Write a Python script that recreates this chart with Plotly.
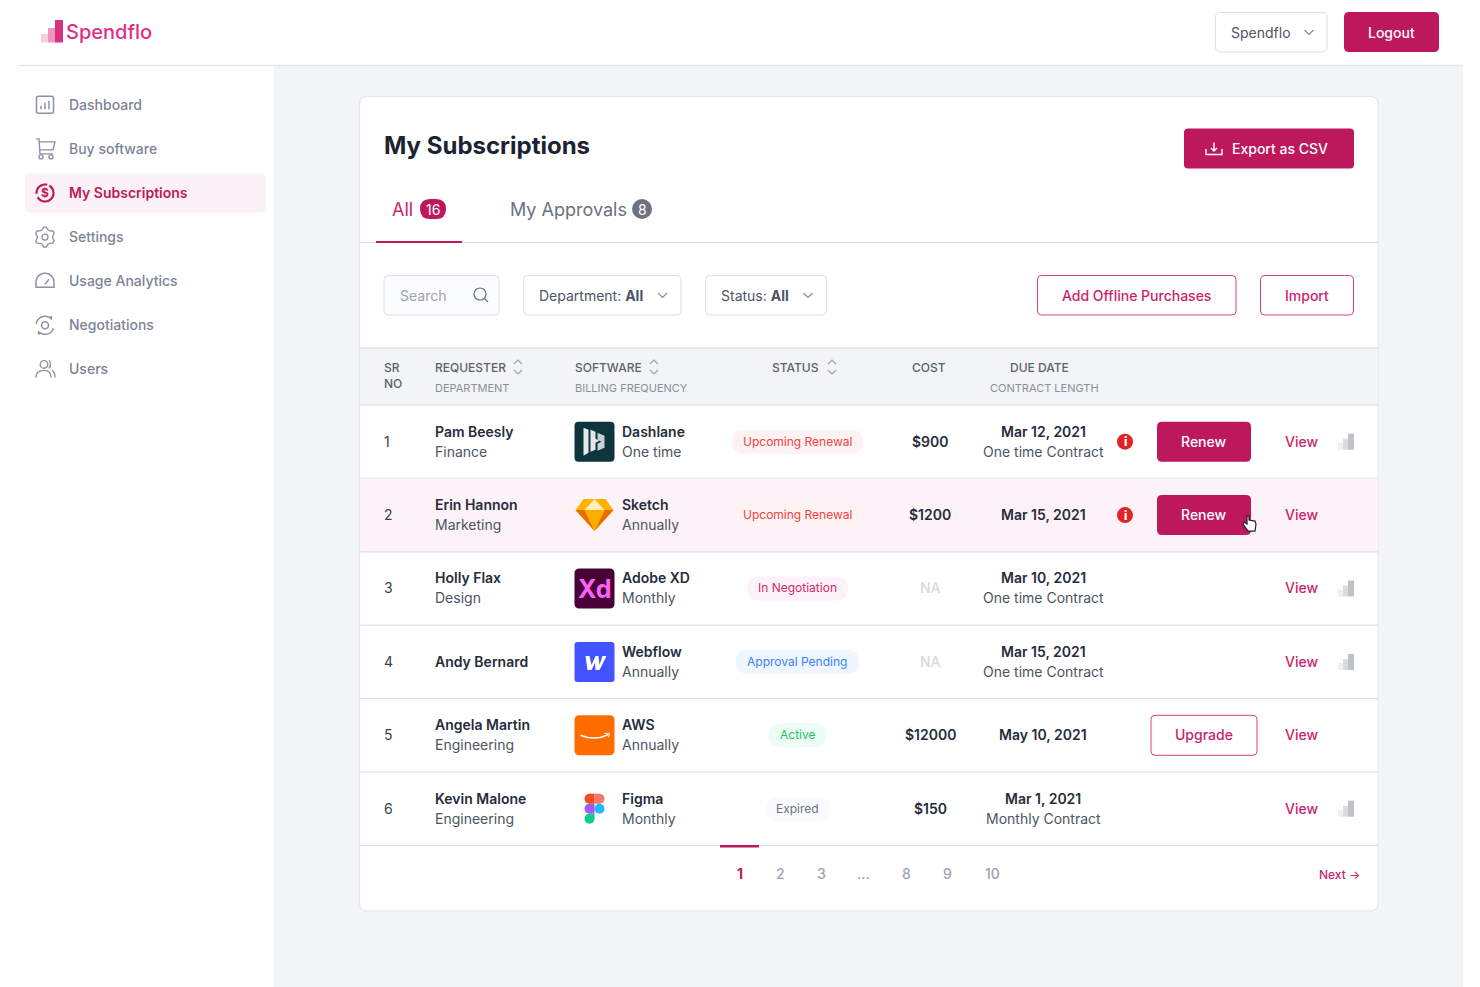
"""Spendflo subscriptions screen drawn on a pixel-sized Plotly canvas."""

import numpy as np
import plotly.graph_objects as go

WIDTH, HEIGHT = 1480, 987
FONT = "Inter"
BRAND = "#BE185D"
BRAND_TEXT = "#C9266A"
LINE = "#E1E3EB"
GREY_ICON = "#8A92A3"
DARK_TEXT = "#252C3B"
BODY_TEXT = "#4B5563"

NAV_ITEMS = ["Dashboard", "Buy software", "My Subscriptions", "Settings",
             "Usage Analytics", "Negotiations", "Users"]
ACTIVE_NAV = "My Subscriptions"

SR_NO = ["1", "2", "3", "4", "5", "6"]
REQUESTERS = ["Pam Beesly", "Erin Hannon", "Holly Flax", "Andy Bernard", "Angela Martin", "Kevin Malone"]
DEPARTMENTS = ["Finance", "Marketing", "Design", "", "Engineering", "Engineering"]
SOFTWARE = ["Dashlane", "Sketch", "Adobe XD", "Webflow", "AWS", "Figma"]
BILLING = ["One time", "Annually", "Monthly", "Annually", "Annually", "Monthly"]
STATUSES = ["Upcoming Renewal", "Upcoming Renewal", "In Negotiation", "Approval Pending", "Active", "Expired"]
COSTS = ["$900", "$1200", "NA", "NA", "$12000", "$150"]
DUE_DATES = ["Mar 12, 2021", "Mar 15, 2021", "Mar 10, 2021", "Mar 15, 2021", "May 10, 2021", "Mar 1, 2021"]
CONTRACTS = ["One time Contract", "", "One time Contract", "One time Contract", "", "Monthly Contract"]
ACTIONS = ["Renew", "Renew", "", "", "Upgrade", ""]
SHOW_INFO = [True, True, False, False, False, False]
SHOW_BARS = [True, False, True, True, False, True]
HIGHLIGHT_ROW = 1

# half width, pill fill, text colour
STATUS_STYLES = {
    "Upcoming Renewal": (65.5, "#FEF2F2", "#EF4444"),
    "In Negotiation": (50.5, "#FDF2F8", "#D02C6E"),
    "Approval Pending": (61.5, "#EFF6FF", "#3B82F6"),
    "Active": (28.5, "#ECFDF5", "#22C55E"),
    "Expired": (32, "#F9FAFB", "#6B7280"),
}

PAGE_LABELS = ["1", "2", "3", "...", "8", "9", "10"]
PAGE_CENTERS = [739.5, 780, 821, 863, 906, 947, 992]

shapes = []
annotations = []


def text(x, y, label, size=14, color="#374151", weight=400, anchor="left", family=FONT):
    # annotations land about half a pixel low and right of the nominal spot
    annotations.append(dict(
        x=x - 0.5, y=y - 0.6, text=label, xref="x", yref="y", showarrow=False,
        xanchor=anchor, yanchor="middle", borderpad=0, borderwidth=0,
        font=dict(family=family, size=size, color=color, weight=weight),
    ))


def rect(x0, y0, x1, y1, fill):
    shapes.append(dict(type="rect", x0=x0, y0=y0, x1=x1, y1=y1, fillcolor=fill, line_width=0))


def rrect(x0, y0, x1, y1, r, fill="rgba(0,0,0,0)", stroke=None, width=1):
    d = (f"M{x0 + r},{y0} L{x1 - r},{y0} Q{x1},{y0} {x1},{y0 + r} L{x1},{y1 - r} Q{x1},{y1} {x1 - r},{y1} "
         f"L{x0 + r},{y1} Q{x0},{y1} {x0},{y1 - r} L{x0},{y0 + r} Q{x0},{y0} {x0 + r},{y0} Z")
    path(d, fill=fill, stroke=stroke, width=width)


def path(d, fill="rgba(0,0,0,0)", stroke=None, width=1):
    line = dict(color=stroke, width=width) if stroke else dict(width=0)
    shapes.append(dict(type="path", path=d, fillcolor=fill, line=line))


def circle(cx, cy, r, fill="rgba(0,0,0,0)", stroke=None, width=1):
    line = dict(color=stroke, width=width) if stroke else dict(width=0)
    shapes.append(dict(type="circle", x0=cx - r, y0=cy - r, x1=cx + r, y1=cy + r, fillcolor=fill, line=line))


def hline(y, x0, x1, color=LINE, width=1):
    shapes.append(dict(type="line", x0=x0, x1=x1, y0=y, y1=y, line=dict(color=color, width=width)))


def arc(cx, cy, r, start, stop, stroke=GREY_ICON, width=1.5):
    angles = np.radians(np.linspace(start, stop, 24))
    pts = [f"{cx + r * np.cos(a):.2f},{cy + r * np.sin(a):.2f}" for a in angles]
    path("M" + " L".join(pts), stroke=stroke, width=width)


def chevron(cx, cy, color="#868C99", size=4.5):
    path(f"M{cx - size},{cy - 2} L{cx},{cy + 2.5} L{cx + size},{cy - 2}", stroke=color, width=1.2)


def sort_arrows(cx, cy):
    path(f"M{cx - 4},{cy - 3} L{cx},{cy - 7} L{cx + 4},{cy - 3}", stroke="#9CA3AF", width=1.2)
    path(f"M{cx - 4},{cy + 3} L{cx},{cy + 7} L{cx + 4},{cy + 3}", stroke="#9CA3AF", width=1.2)


def usage_bars(x, cy):
    rect(x, cy + 1, x + 5, cy + 8, "#EEEFF1")
    rect(x + 5, cy - 3, x + 10, cy + 8, "#DADCDF")
    rect(x + 10, cy - 8, x + 16, cy + 8, "#BFC2C6")


def nav_icon(name, cx, cy):
    color = BRAND if name == ACTIVE_NAV else GREY_ICON
    if name == "Dashboard":
        rrect(cx - 8.5, cy - 8.5, cx + 8.5, cy + 8.5, 2, stroke=color, width=1.5)
        for dx, top in [(-4, 1), (0, -2), (4, -4)]:
            path(f"M{cx + dx},{cy + 4.5} L{cx + dx},{cy + top}", stroke=color, width=1.5)
    elif name == "Buy software":
        path(f"M{cx - 9},{cy - 10} L{cx - 6},{cy - 10} L{cx - 5},{cy + 5} L{cx + 8},{cy + 5} "
             f"M{cx - 5.5},{cy - 7} L{cx + 10},{cy - 7} L{cx + 8},{cy + 1} L{cx - 5},{cy + 1}",
             stroke=color, width=1.4)
        circle(cx - 4, cy + 8, 2, stroke=color, width=1.4)
        circle(cx + 6, cy + 8, 2, stroke=color, width=1.4)
    elif name == "My Subscriptions":
        arc(cx, cy, 8.5, -60, 150, stroke=color, width=2.2)
        arc(cx, cy, 8.5, 175, 285, stroke=color, width=2.2)
        text(cx + 0.5, cy + 0.5, "$", size=12, color=color, weight=700, anchor="center")
    elif name == "Settings":
        angles = np.radians(np.arange(0, 360, 15) + 82.5)
        radii = np.where(np.arange(24) % 4 < 2, 10, 7.8)
        pts = [f"{cx + r * np.cos(a):.2f},{cy + r * np.sin(a):.2f}" for r, a in zip(radii, angles)]
        path("M" + " L".join(pts) + " Z", stroke=color, width=1.3)
        circle(cx, cy, 3, stroke=color, width=1.3)
    elif name == "Usage Analytics":
        arc(cx, cy + 1, 9, 180, 360, stroke=color, width=1.5)
        path(f"M{cx - 9},{cy + 1} L{cx - 9},{cy + 6} L{cx + 9},{cy + 6} L{cx + 9},{cy + 1}", stroke=color, width=1.5)
        path(f"M{cx},{cy + 3} L{cx + 4},{cy - 2}", stroke=color, width=1.5)
    elif name == "Negotiations":
        circle(cx, cy, 3.5, stroke=color, width=1.5)
        arc(cx, cy, 9, 190, 320, stroke=color, width=1.5)
        arc(cx, cy, 9, 20, 140, stroke=color, width=1.5)
        circle(cx + 6, cy - 8, 1.3, fill=color)
        circle(cx - 6, cy + 8, 1.3, fill=color)
    elif name == "Users":
        circle(cx - 1, cy - 5, 3.8, stroke=color, width=1.4)
        path(f"M{cx - 9},{cy + 8} Q{cx - 9},{cy + 1} {cx - 1},{cy + 1} Q{cx + 6},{cy + 1} {cx + 6},{cy + 8}",
             stroke=color, width=1.4)
        path(f"M{cx + 4},{cy - 9} Q{cx + 7},{cy - 5} {cx + 4},{cy - 1} M{cx + 7},{cy + 1} Q{cx + 10},{cy + 3} {cx + 10},{cy + 8}",
             stroke=color, width=1.4)


def logo(name, x, cy):
    top, bottom, right = cy - 20, cy + 20, x + 40
    if name == "Dashlane":
        rrect(x, top, right, bottom, 4, fill="#0E353D")
        path(f"M{x + 9},{cy - 14} L{x + 14},{cy - 12} L{x + 14},{cy + 11} L{x + 9},{cy + 14} Z", fill="#E4E9E8")
        path(f"M{x + 16},{cy - 12} L{x + 21},{cy - 10} L{x + 21},{cy - 3} L{x + 25},{cy - 1} L{x + 21},{cy + 1} "
             f"L{x + 21},{cy + 8} L{x + 16},{cy + 10} Z", fill="#E4E9E8")
        path(f"M{x + 23},{cy - 9} L{x + 30},{cy - 6} L{x + 30},{cy + 6} L{x + 23},{cy + 9} L{x + 23},{cy + 2} "
             f"L{x + 27},{cy} L{x + 23},{cy - 2} Z", fill="#C9D2D1")
    elif name == "Sketch":
        mid = x + 20
        path(f"M{mid - 11},{cy - 16} L{mid + 11},{cy - 16} L{mid + 19},{cy - 5} L{mid},{cy + 16} L{mid - 19},{cy - 5} Z",
             fill="#FDB300")
        path(f"M{mid - 19},{cy - 5} L{mid},{cy + 16} L{mid - 10},{cy - 5} Z", fill="#EA6C00")
        path(f"M{mid + 19},{cy - 5} L{mid},{cy + 16} L{mid + 10},{cy - 5} Z", fill="#EA6C00")
        path(f"M{mid - 10},{cy - 5} L{mid + 10},{cy - 5} L{mid},{cy + 16} Z", fill="#FDAD00")
        path(f"M{mid},{cy - 16} L{mid + 10},{cy - 5} L{mid - 10},{cy - 5} Z", fill="#FEEEB7")
    elif name == "Adobe XD":
        rrect(x, top, right, bottom, 5, fill="#470137")
        text(x + 20.5, cy + 0.6, "Xd", size=25, color="#FF61F6", weight=700, anchor="center")
    elif name == "Webflow":
        rrect(x, top, right, bottom, 3, fill="#4353FF")
        path(f"M{x + 11},{cy - 6} L{x + 15},{cy - 6} L{x + 17},{cy + 3} L{x + 21},{cy - 6} L{x + 24},{cy - 6} "
             f"L{x + 25},{cy + 3} L{x + 28},{cy - 6} L{x + 32},{cy - 6} L{x + 25},{cy + 8} L{x + 21},{cy + 8} "
             f"L{x + 20.5},{cy + 1} L{x + 17},{cy + 8} L{x + 13},{cy + 8} Z", fill="#FFFFFF")
    elif name == "AWS":
        rrect(x, top, right, bottom, 5, fill="#FF6C00")
        path(f"M{x + 6},{cy} Q{x + 20},{cy + 6} {x + 34},{cy - 1}", stroke="#FFFFFF", width=1.5)
        path(f"M{x + 30},{cy - 2} L{x + 35},{cy - 2} L{x + 34},{cy + 2}", stroke="#FFFFFF", width=1)
    elif name == "Figma":
        mid = x + 20
        circle(mid + 5, cy, 5, fill="#1ABCFE")
        circle(mid - 5, cy + 10, 5, fill="#0ACF83")
        rect(mid - 5, cy + 5, mid, cy + 10, "#0ACF83")
        circle(mid - 5, cy, 5, fill="#A259FF")
        rect(mid - 5, cy - 5, mid, cy + 5, "#A259FF")
        circle(mid - 5, cy - 10, 5, fill="#F24E1E")
        rect(mid - 5, cy - 15, mid, cy - 5, "#F24E1E")
        circle(mid + 5, cy - 10, 5, fill="#F9766B")
        rect(mid, cy - 15, mid + 5, cy - 5, "#F9766B")


def hand_cursor(x, y):
    path(f"M{x - 2},{y - 7} L{x - 2},{y + 1} L{x - 5},{y - 1} L{x - 6},{y + 1} L{x - 1},{y + 8} L{x + 6},{y + 8} "
         f"L{x + 7},{y + 1} L{x + 6},{y - 2} L{x},{y - 3} L{x},{y - 7} Z",
         fill="#FFFFFF", stroke="#222222", width=1.2)


# page frame
rect(274, 66, 1463, HEIGHT, "#F3F4F6")
hline(65.5, 18, 1463, color="#E4E5E9", width=1.5)

# top bar
for bx, top, fill in [(41, 34, "#F6CFE0"), (48, 28, "#EE97BC"), (55, 20, "#DC2F82")]:
    rect(bx, top, bx + (8 if bx == 55 else 7), 42.5, fill)
text(66.5, 32.6, "Spendflo", size=20, color="#DD2F86", weight=500)
rrect(1215.5, 12.5, 1327, 52, 5, fill="#FFFFFF", stroke="#DDDFE5")
text(1231.5, 32.6, "Spendflo", size=14, color=BODY_TEXT)
chevron(1309, 32)
rrect(1344, 12, 1439, 52, 5, fill=BRAND)
text(1392, 32.6, "Logout", size=14, color="#FFFFFF", weight=500, anchor="center")

# sidebar
rrect(25, 173, 266, 212.5, 6, fill="#FCF1F6")
for idx, item in enumerate(NAV_ITEMS):
    cy = 104.8 + idx * 44.1
    active = item == ACTIVE_NAV
    nav_icon(item, 45, cy)
    text(69.5, cy, item, size=14, color=BRAND if active else "#7C8494", weight=600 if active else 500)

# card and heading
rrect(359.5, 96.5, 1378, 911, 8, fill="#FFFFFF", stroke="#E1E3EB")
text(384, 146, "My Subscriptions", size=24, color="#1B2333", weight=700)
rrect(1184, 128.5, 1354, 168.5, 4, fill=BRAND)
path("M1206,149 L1206,154.5 L1222,154.5 L1222,149 M1214,142.5 L1214,151 M1211,148 L1214,151 L1217,148",
     stroke="#FFFFFF", width=1.4)
text(1232.5, 149, "Export as CSV", size=14, color="#FFFFFF", weight=500)

# tabs
text(392.5, 210, "All", size=18, color=BRAND_TEXT, weight=400)
rrect(420, 199, 446, 219, 10, fill=BRAND)
text(433.5, 209.8, "16", size=14, color="#FFFFFF", anchor="center")
text(510.5, 210, "My Approvals", size=18, color="#6B7280", weight=400)
circle(642, 209, 10, fill="#6B7280")
text(642.5, 209.8, "8", size=14, color="#FFFFFF", anchor="center")
hline(242.5, 360, 1378, color="#D9DBE5")
rect(376, 241, 462, 243, BRAND)

# filters
rrect(384, 275.5, 499, 315, 4, fill="#FBFCFD", stroke="#DDDFE5")
text(400, 296, "Search", size=14, color="#9CA3AF")
circle(480, 294, 6, stroke="#6B7280", width=1.2)
path("M484.5,298.5 L488,302", stroke="#6B7280", width=1.2)
rrect(523.5, 275.5, 681, 315, 4, fill="#FFFFFF", stroke="#DDDFE5")
text(539.5, 296, "Department: <b>All</b>", size=14, color=BODY_TEXT)
chevron(662.5, 295)
rrect(705.5, 275.5, 826.5, 315, 4, fill="#FFFFFF", stroke="#DDDFE5")
text(721.5, 296, "Status: <b>All</b>", size=14, color=BODY_TEXT)
chevron(808, 295)
rrect(1037.5, 275.5, 1236, 315, 4, fill="#FFFFFF", stroke="#D6407F")
text(1136.5, 296, "Add Offline Purchases", size=14, color=BRAND_TEXT, weight=500, anchor="center")
rrect(1260.5, 275.5, 1353.5, 315, 4, fill="#FFFFFF", stroke="#D6407F")
text(1307, 296, "Import", size=14, color=BRAND_TEXT, weight=500, anchor="center")

# table header
rect(360, 348, 1378, 405, "#F3F4F6")
hline(348, 360, 1378, color="#E4E5EA", width=1.5)
hline(405, 360, 1378, color="#E1E3EB", width=1.5)
HEAD = "#5B6270"
SUB = "#8A8F9B"
text(384, 368, "SR", size=12, color=HEAD, weight=500)
text(384, 384, "NO", size=12, color=HEAD, weight=500)
text(435.5, 368, "REQUESTER", size=12, color=HEAD, weight=500)
text(435.5, 388.5, "DEPARTMENT", size=11, color=SUB)
sort_arrows(518, 367)
text(575, 368, "SOFTWARE", size=12, color=HEAD, weight=500)
text(575, 388.5, "BILLING FREQUENCY", size=11, color=SUB)
sort_arrows(654, 367)
text(796, 368, "STATUS", size=12, color=HEAD, weight=500, anchor="center")
sort_arrows(832, 367)
text(929, 368, "COST", size=12, color=HEAD, weight=500, anchor="center")
text(1040, 368, "DUE DATE", size=12, color=HEAD, weight=500, anchor="center")
text(1045, 388.5, "CONTRACT LENGTH", size=11, color=SUB, anchor="center")

# table rows
ROW_TOP = 405
ROW_STEP = 73.4
for i, sr in enumerate(SR_NO):
    top = ROW_TOP + i * ROW_STEP
    cy = top + ROW_STEP / 2
    if i == HIGHLIGHT_ROW:
        rect(360, top, 1378, top + ROW_STEP, "#FDF2F7")
    hline(top + ROW_STEP, 360, 1378, color="#DDDFE8", width=1.2)

    text(384, cy, sr, size=14, color="#374151")
    if DEPARTMENTS[i]:
        text(435.5, cy - 10, REQUESTERS[i], size=14, color=DARK_TEXT, weight=600)
        text(435.5, cy + 10, DEPARTMENTS[i], size=14, color=BODY_TEXT)
    else:
        text(435.5, cy, REQUESTERS[i], size=14, color=DARK_TEXT, weight=600)

    logo(SOFTWARE[i], 574.5, cy)
    text(622.5, cy - 10, SOFTWARE[i], size=14, color=DARK_TEXT, weight=600)
    text(622.5, cy + 10, BILLING[i], size=14, color=BODY_TEXT)

    half, pill, ink = STATUS_STYLES[STATUSES[i]]
    rrect(797.5 - half, cy - 12, 797.5 + half, cy + 12, 12, fill=pill)
    text(797.5, cy, STATUSES[i], size=12, color=ink, weight=400, anchor="center")

    if COSTS[i] == "NA":
        text(930.5, cy, COSTS[i], size=14, color="#D5D8DE", weight=500, anchor="center")
    else:
        text(930.5, cy, COSTS[i], size=14, color=DARK_TEXT, weight=600, anchor="center")

    if CONTRACTS[i]:
        text(1043.5, cy - 10, DUE_DATES[i], size=14, color=DARK_TEXT, weight=600, anchor="center")
        text(1043.5, cy + 10, CONTRACTS[i], size=14, color=BODY_TEXT, anchor="center")
    else:
        text(1043.5, cy, DUE_DATES[i], size=14, color=DARK_TEXT, weight=600, anchor="center")

    if SHOW_INFO[i]:
        circle(1125, cy, 8, fill="#E02424")
        text(1125.5, cy + 0.5, "i", size=12, color="#FFFFFF", weight=800, anchor="center")

    if ACTIONS[i] == "Renew":
        rrect(1157, cy - 20, 1251, cy + 20, 5, fill=BRAND)
        text(1204, cy, ACTIONS[i], size=14, color="#FFFFFF", weight=500, anchor="center")
    elif ACTIONS[i]:
        rrect(1151, cy - 20, 1257, cy + 20, 4, fill="#FFFFFF", stroke="#D6407F")
        text(1204, cy, ACTIONS[i], size=14, color=BRAND_TEXT, weight=500, anchor="center")

    text(1285.5, cy, "View", size=14, color=BRAND_TEXT, weight=500)
    if SHOW_BARS[i]:
        usage_bars(1338, cy)
    if i == HIGHLIGHT_ROW:
        hand_cursor(1249, cy + 8)

# pagination
rect(720, 845, 759, 847.5, BRAND)
for label, cx in zip(PAGE_LABELS, PAGE_CENTERS):
    active = label == "1"
    text(cx + 0.5, 874.3, label, size=14, color=BRAND if active else "#9CA3AF", weight=700 if active else 500, anchor="center")
text(1319.5, 875, "Next →", size=12, color=BRAND_TEXT, weight=500)

fig = go.Figure()
fig.update_layout(
    width=WIDTH,
    height=HEIGHT,
    margin=dict(l=0, r=0, t=0, b=0),
    paper_bgcolor="#FFFFFF",
    plot_bgcolor="#FFFFFF",
    showlegend=False,
    shapes=shapes,
    annotations=annotations,
    xaxis=dict(range=[0, WIDTH], visible=False, fixedrange=True),
    yaxis=dict(range=[HEIGHT, 0], visible=False, fixedrange=True),
)
fig.write_html("out.html", config={"displayModeBar": False}, post_script="document.body.style.margin='0';")
